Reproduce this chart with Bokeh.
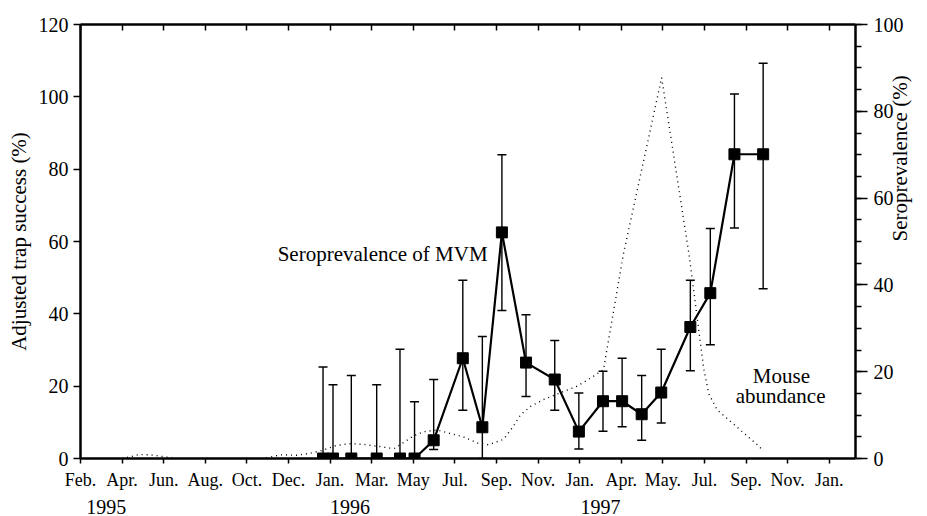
import math
from bokeh.plotting import figure
from bokeh.models import Range1d, LinearAxis, FixedTicker, Label
from bokeh.embed import file_html
from bokeh.resources import INLINE

# ---- data ----
month_labels = ["Feb.", "Apr.", "Jun.", "Aug.", "Oct.", "Dec.", "Jan.", "Mar.", "May",
                "Jul.", "Sep.", "Nov.", "Jan.", "Apr.", "May.", "Jul.", "Sep.", "Nov.", "Jan."]
year_labels = ["1995", "1996", "1997"]
year_pos = [0.62, 6.48, 12.5]

# seroprevalence of MVM (right axis, %)
sero_x = [5.83, 6.07, 6.51, 7.12, 7.68, 8.03, 8.49, 9.19, 9.66, 10.13, 10.71,
          11.40, 11.98, 12.56, 13.02, 13.49, 13.96, 14.66, 15.14, 15.72, 16.41]
sero = [0, 0, 0, 0, 0, 0, 4.2, 23.1, 7.2, 52.1, 22.1,
        18.2, 6.2, 13.2, 13.2, 10.2, 15.2, 30.3, 38.1, 70.1, 70.1]
sero_upper = [21.1, 17.0, 19.1, 17.0, 25.2, 13.1, 18.2, 41.1, 28.1, 70.0, 33.1,
              27.2, 15.1, 20.1, 23.1, 19.1, 25.2, 41.1, 53.0, 84.0, 91.1]
sero_lower = [0, 0, 0, 0, 0, 0, 2.1, 11.1, 0, 34.1, 14.3,
              11.1, 2.2, 6.3, 7.3, 4.2, 8.2, 20.2, 26.2, 53.1, 39.1]

# mouse abundance (left axis, adjusted trap success %)
mouse_x = [1.0, 1.24, 1.4, 1.7, 2.0, 2.3, 4.4, 4.8, 5.2, 5.5, 5.8, 6.0, 6.15, 6.49,
           6.8, 7.2, 7.53, 7.7, 8.0, 8.25, 8.57, 8.89, 9.2, 9.54, 9.81, 10.17, 10.38,
           10.58, 10.82, 11.13, 11.54, 11.94, 12.3, 12.57, 13.05, 13.97, 14.63, 14.98,
           15.1, 15.3, 15.6, 16.0, 16.3, 16.42]
mouse = [0, 0.6, 1.1, 1.0, 0.5, 0, 0, 1.0, 0.9, 1.4, 2.2, 3.0, 3.6, 4.1,
         3.9, 3.3, 2.7, 3.9, 6.2, 7.4, 7.9, 6.9, 6.0, 4.3, 3.8, 5.3, 8.5,
         12.1, 14.4, 16.3, 18.2, 20.0, 22.5, 24.5, 56.5, 105.3, 56.3, 25.0,
         18.0, 13.5, 10.5, 6.5, 3.5, 2.0]

FONT = "Liberation Serif"

p = figure(width=927, height=516, x_range=Range1d(0, 18.63), y_range=Range1d(0, 120),
           output_backend="svg", toolbar_location=None,
           min_border_left=80, min_border_right=72, min_border_top=24, min_border_bottom=57)
p.extra_y_ranges = {"sero": Range1d(0, 100)}
p.grid.visible = False
p.outline_line_color = None
p.background_fill_color = "white"
p.border_fill_color = "white"

# bottom axis (months)
xa = p.xaxis[0]
xa.ticker = FixedTicker(ticks=list(range(len(month_labels))))
xa.major_label_overrides = {i: lab for i, lab in enumerate(month_labels)}
xa.major_tick_out = 5
xa.major_tick_in = 0
xa.minor_tick_line_color = None
xa.major_label_standoff = 6
xa.major_label_text_font = FONT
xa.major_label_text_font_size = "18px"
xa.major_label_text_color = "black"
xa.axis_line_width = 2.5
xa.major_tick_line_width = 1.5

# second bottom axis (years)
yr_axis = LinearAxis(ticker=FixedTicker(ticks=year_pos),
                     major_label_overrides={xp: yr for xp, yr in zip(year_pos, year_labels)},
                     axis_line_color=None, major_tick_line_color=None,
                     minor_tick_line_color=None, major_tick_out=0, major_tick_in=0,
                     major_label_standoff=7, major_label_text_font=FONT,
                     major_label_text_font_size="20px", major_label_text_color="black")
p.add_layout(yr_axis, "below")

# top axis
ta = LinearAxis(ticker=FixedTicker(ticks=list(range(len(month_labels)))),
                major_label_overrides={i: "" for i in range(len(month_labels))},
                major_tick_in=6, major_tick_out=0, minor_tick_line_color=None,
                axis_line_width=2.5, major_tick_line_width=1.5,
                major_label_text_font_size="1px")
p.add_layout(ta, "above")

# left axis
ya = p.yaxis[0]
ya.ticker = FixedTicker(ticks=[0, 20, 40, 60, 80, 100, 120])
ya.major_tick_out = 7
ya.major_tick_in = 0
ya.minor_tick_line_color = None
ya.major_label_standoff = 5
ya.major_label_text_font = FONT
ya.major_label_text_font_size = "20px"
ya.major_label_text_color = "black"
ya.axis_line_width = 2.5
ya.major_tick_line_width = 1.5
ya.axis_label = "Adjusted trap success (%)"
ya.axis_label_text_font = FONT
ya.axis_label_text_font_size = "21px"
ya.axis_label_text_font_style = "normal"
ya.axis_label_text_color = "black"
ya.axis_label_standoff = 5

# right axis
ra = LinearAxis(y_range_name="sero",
                ticker=FixedTicker(ticks=[0, 20, 40, 60, 80, 100],
                                   minor_ticks=list(range(0, 101, 5))),
                major_tick_out=12, major_tick_in=0, minor_tick_out=6, minor_tick_in=0,
                major_label_standoff=6, axis_line_width=2.5,
                major_tick_line_width=1.5, minor_tick_line_width=1.5,
                major_label_text_font=FONT, major_label_text_font_size="20px",
                major_label_text_color="black",
                axis_label="Seroprevalence (%)", axis_label_text_font=FONT,
                axis_label_text_font_size="21px", axis_label_text_font_style="normal",
                axis_label_text_color="black", axis_label_standoff=-7)
ra.axis_label_orientation = math.pi / 2
p.add_layout(ra, "right")

# mouse abundance dotted line
p.line(mouse_x, mouse, line_color="black", line_width=1.4, line_dash="1 4")

# error bars
p.segment(x0=sero_x, y0=sero_lower, x1=sero_x, y1=sero_upper, line_color="black",
          line_width=1.4, y_range_name="sero")
p.dash(sero_x, sero_upper, size=9, line_width=1.5, line_color="black", y_range_name="sero")
p.dash(sero_x, sero_lower, size=9, line_width=1.5, line_color="black", y_range_name="sero")

# seroprevalence line + markers
p.line(sero_x, sero, line_color="black", line_width=2.2, y_range_name="sero")
p.scatter(sero_x, sero, marker="square", size=11, fill_color="black", line_color="black",
          y_range_name="sero")

# text annotations
p.add_layout(Label(x=4.74, y=56.6, text="Seroprevalence of MVM", text_font=FONT,
                   text_font_size="21px", text_baseline="middle", text_align="left",
                   text_color="black"))
p.add_layout(Label(x=16.85, y=22.9, text="Mouse", text_font=FONT,
                   text_font_size="21px", text_baseline="middle", text_align="center",
                   text_color="black"))
p.add_layout(Label(x=16.83, y=17.4, text="abundance", text_font=FONT,
                   text_font_size="21px", text_baseline="middle", text_align="center",
                   text_color="black"))

open("out.html", "w").write(file_html(p, INLINE))
